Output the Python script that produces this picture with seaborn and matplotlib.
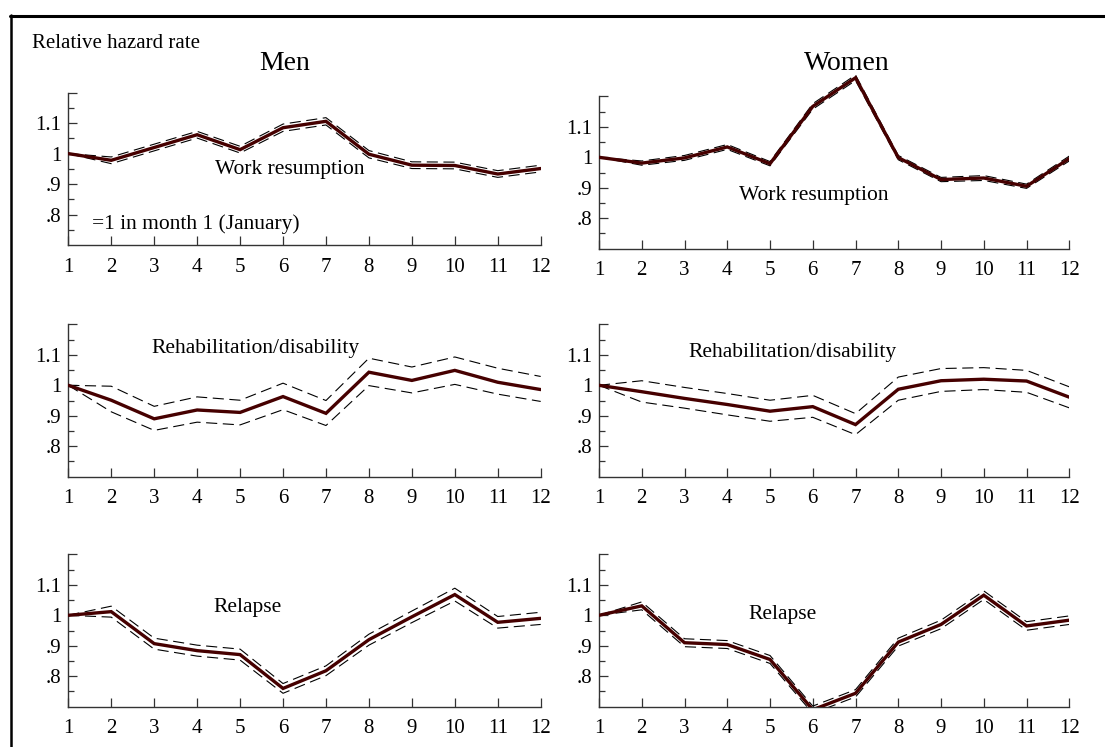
import numpy as np
import pandas as pd
import seaborn as sns
import matplotlib
matplotlib.use("Agg")
import matplotlib.pyplot as plt
from matplotlib.lines import Line2D
from matplotlib.ticker import FixedLocator

# ---------------- data ----------------
months = list(range(1, 13))
month_labels = [str(m) for m in months]
ytick_major = [0.8, 0.9, 1.0, 1.1, 1.2]
ytick_labels = [".8", ".9", "1", "1.1", ""]
ytick_minor = [0.75, 0.85, 0.95, 1.05, 1.15]

men_work_est = [1.000, 0.978, 1.020, 1.062, 1.013, 1.085, 1.106, 0.998, 0.962, 0.961, 0.933, 0.951]
men_work_hi = [1.000, 0.989, 1.031, 1.073, 1.024, 1.097, 1.118, 1.010, 0.973, 0.972, 0.944, 0.962]
men_work_lo = [1.000, 0.967, 1.009, 1.051, 1.002, 1.073, 1.094, 0.986, 0.951, 0.950, 0.922, 0.940]

women_work_est = [1.000, 0.981, 0.998, 1.034, 0.979, 1.167, 1.261, 0.999, 0.927, 0.932, 0.905, 0.996]
women_work_hi = [1.000, 0.988, 1.006, 1.042, 0.986, 1.176, 1.270, 1.006, 0.934, 0.940, 0.912, 1.004]
women_work_lo = [1.000, 0.974, 0.990, 1.026, 0.972, 1.158, 1.252, 0.992, 0.920, 0.924, 0.898, 0.988]

men_rehab_est = [1.000, 0.951, 0.890, 0.919, 0.911, 0.963, 0.908, 1.043, 1.016, 1.049, 1.010, 0.986]
men_rehab_hi = [1.000, 0.997, 0.931, 0.962, 0.951, 1.007, 0.950, 1.089, 1.060, 1.093, 1.056, 1.029]
men_rehab_lo = [1.000, 0.913, 0.852, 0.879, 0.870, 0.920, 0.868, 0.999, 0.975, 1.003, 0.971, 0.947]

women_rehab_est = [1.000, 0.979, 0.957, 0.937, 0.915, 0.930, 0.871, 0.987, 1.015, 1.020, 1.014, 0.961]
women_rehab_hi = [1.000, 1.015, 0.993, 0.973, 0.951, 0.967, 0.907, 1.027, 1.055, 1.058, 1.049, 0.995]
women_rehab_lo = [1.000, 0.945, 0.925, 0.903, 0.882, 0.895, 0.838, 0.951, 0.980, 0.986, 0.977, 0.926]

men_relapse_est = [1.000, 1.012, 0.907, 0.884, 0.871, 0.760, 0.818, 0.920, 0.995, 1.068, 0.977, 0.990]
men_relapse_hi = [1.000, 1.030, 0.925, 0.902, 0.889, 0.776, 0.834, 0.938, 1.014, 1.089, 0.996, 1.010]
men_relapse_lo = [1.000, 0.994, 0.889, 0.866, 0.853, 0.744, 0.802, 0.902, 0.976, 1.047, 0.958, 0.970]

women_relapse_est = [1.000, 1.031, 0.910, 0.904, 0.855, 0.690, 0.744, 0.912, 0.970, 1.066, 0.965, 0.984]
women_relapse_hi = [1.000, 1.044, 0.923, 0.917, 0.868, 0.702, 0.756, 0.925, 0.984, 1.080, 0.979, 0.998]
women_relapse_lo = [1.000, 1.018, 0.897, 0.891, 0.842, 0.678, 0.732, 0.899, 0.956, 1.052, 0.951, 0.970]

panel_labels = ["Work resumption", "Work resumption",
                "Rehabilitation/disability", "Rehabilitation/disability",
                "Relapse", "Relapse"]

# ---------------- style ----------------
sns.set_theme(style="white")
plt.rcParams["font.family"] = ["Liberation Serif", "DejaVu Serif"]
plt.rcParams["lines.scale_dashes"] = False
plt.rcParams["text.color"] = "black"
plt.rcParams["xtick.color"] = "black"
plt.rcParams["ytick.color"] = "black"
plt.rcParams["xtick.labelcolor"] = "black"
plt.rcParams["ytick.labelcolor"] = "black"

LINE_COL = "#460000"
AX_COL = "#333333"
TICK_FS = 15
ANN_FS = 15.5

fig = plt.figure(figsize=(11.05, 7.47), dpi=100)

# axes rectangles (left, bottom, width, height) in figure fraction; y range 0.7..1.3
H = 0.2447
rects = [
    (0.06181, 0.67202, 0.42751, H),
    (0.54208, 0.66707, 0.42561, H),
    (0.06181, 0.36185, 0.42751, H),
    (0.54208, 0.36185, 0.42561, H),
    (0.06181, 0.05395, 0.42751, H),
    (0.54208, 0.05395, 0.42561, H),
]

series = [
    (men_work_est, men_work_lo, men_work_hi),
    (women_work_est, women_work_lo, women_work_hi),
    (men_rehab_est, men_rehab_lo, men_rehab_hi),
    (women_rehab_est, women_rehab_lo, women_rehab_hi),
    (men_relapse_est, men_relapse_lo, men_relapse_hi),
    (women_relapse_est, women_relapse_lo, women_relapse_hi),
]

label_pos = [(6.15, 0.947), (6.02, 0.875), (5.37, 1.12), (5.53, 1.109), (5.18, 1.027), (5.29, 1.001)]

for i, (rect, (est, lo, hi)) in enumerate(zip(rects, series)):
    ax = fig.add_axes(rect)
    ax.set_facecolor("none")
    df = pd.DataFrame({"month": months, "est": est, "lo": lo, "hi": hi})
    sns.lineplot(data=df, x="month", y="lo", ax=ax, color="black", lw=0.8,
                 linestyle=(0, (8, 4)), zorder=2)
    sns.lineplot(data=df, x="month", y="hi", ax=ax, color="black", lw=0.8,
                 linestyle=(0, (8, 4)), zorder=2)
    sns.lineplot(data=df, x="month", y="est", ax=ax, color=LINE_COL, lw=2.4,
                 zorder=3, solid_joinstyle="miter")
    ax.set_xlim(1, 12)
    ax.set_ylim(0.7, 1.3)
    ax.set_xlabel("")
    ax.set_ylabel("")
    for s in ["top", "right"]:
        ax.spines[s].set_visible(False)
    for s in ["left", "bottom"]:
        ax.spines[s].set_color(AX_COL)
        ax.spines[s].set_linewidth(1.0)
    ax.spines["left"].set_bounds(0.7, 1.2)
    ax.set_xticks(months)
    ax.set_xticklabels(month_labels)
    ax.yaxis.set_major_locator(FixedLocator(ytick_major))
    ax.set_yticklabels(ytick_labels)
    ax.yaxis.set_minor_locator(FixedLocator(ytick_minor))
    ax.tick_params(axis="x", which="major", direction="in", length=6.5, width=0.9,
                   color=AX_COL, labelcolor="black", labelsize=TICK_FS, pad=9, bottom=True)
    ax.tick_params(axis="y", which="major", direction="in", length=6.5, width=0.9,
                   color=AX_COL, labelcolor="black", labelsize=TICK_FS, pad=5, left=True)
    ax.tick_params(axis="y", which="minor", direction="in", length=4.3, width=0.9,
                   color=AX_COL, left=True)
    ax.grid(False)
    lx, ly = label_pos[i]
    ax.text(lx, ly, panel_labels[i], ha="center", va="center", fontsize=ANN_FS, color="black")
    if i == 0:
        ax.text(3.96, 0.768, "=1 in month 1 (January)", ha="center", va="center",
                fontsize=ANN_FS, color="black")

W, Hpx = 1105, 747
fig.text(32 / W, 1 - 43 / Hpx, "Relative hazard rate", ha="left", va="center",
         fontsize=15, color="black")
fig.text(285 / W, 1 - 63 / Hpx, "Men", ha="center", va="center", fontsize=20, color="black")
fig.text(847 / W, 1 - 63 / Hpx, "Women", ha="center", va="center", fontsize=20, color="black")

# outer frame (top and left edges)
fig.add_artist(Line2D([9.5 / W, 1.0], [1 - 15.7 / Hpx, 1 - 15.7 / Hpx],
                      transform=fig.transFigure, color="black", lw=2.2))
fig.add_artist(Line2D([10.5 / W, 10.5 / W], [0.0, 1 - 15.0 / Hpx],
                      transform=fig.transFigure, color="black", lw=1.8))

fig.savefig("out.png", dpi=100, facecolor="white")
